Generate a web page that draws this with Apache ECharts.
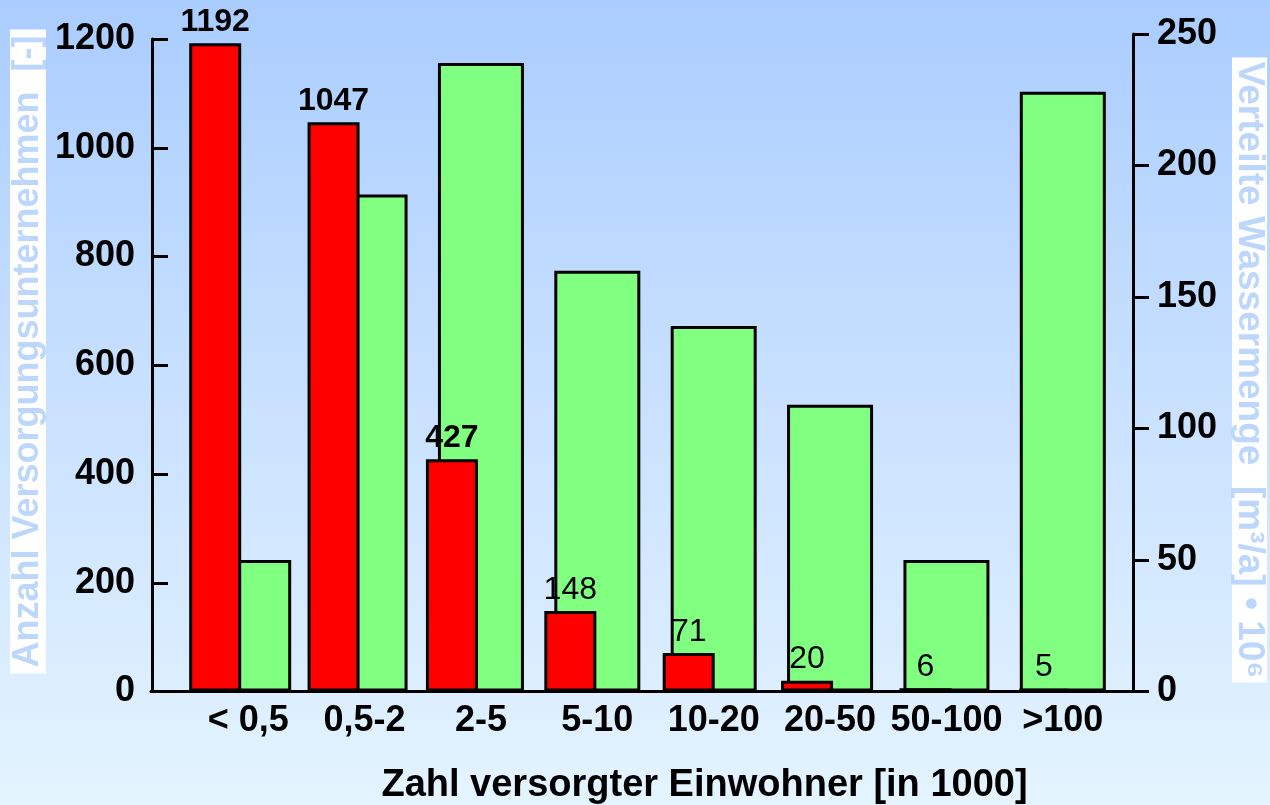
<!DOCTYPE html>
<html>
<head>
<meta charset="utf-8">
<script src="https://cdn.jsdelivr.net/npm/echarts@6/dist/echarts.min.js"></script>
<style>
  html, body { margin: 0; padding: 0; }
  #chart { width: 1270px; height: 805px; }
</style>
</head>
<body>
<div id="chart"></div>
<script>
// Size classes of supplied inhabitants (in 1000)
const categories = ['< 0,5', '0,5-2', '2-5', '5-10', '10-20', '20-50', '50-100', '>100'];
// Number of water supply companies per class
const anzahlUnternehmen = [1192, 1047, 427, 148, 71, 20, 6, 5];
// Distributed water volume per class [m³/a · 10⁶]
const wassermenge = [50, 189, 239, 160, 139, 109, 50, 228];
// Axis ticks
const leftTicks = [0, 200, 400, 600, 800, 1000, 1200];
const rightTicks = [0, 50, 100, 150, 200, 250];

const FONT = '"Liberation Sans", Arial, sans-serif';
const chart = echarts.init(document.getElementById('chart'));

const titleColor = '#bcd7fb';
const plain = v => String(v);

chart.setOption({
  animation: false,
  backgroundColor: {
    type: 'linear', x: 0, y: 0, x2: 0, y2: 1,
    colorStops: [
      { offset: 0, color: '#aacdff' },
      { offset: 0.5, color: '#c9e1ff' },
      { offset: 1, color: '#e4f4ff' }
    ]
  },
  grid: [
    { left: 156, right: 167, top: 39, bottom: 113.5 },  // company counts
    { left: 190, right: 149, top: 34, bottom: 113.5 },  // water volume
    { left: 151, right: 137, top: 39, bottom: 113.5 }   // baseline frame
  ],
  xAxis: [
    { gridIndex: 0, type: 'category', data: categories, show: false },
    {
      gridIndex: 1, type: 'category', data: categories,
      axisLine: { show: false }, axisTick: { show: false },
      axisLabel: { color: '#000', fontFamily: FONT, fontWeight: 'bold', fontSize: 36, margin: 12, interval: 0 }
    },
    {
      gridIndex: 2, type: 'category', data: categories,
      axisLine: { lineStyle: { color: '#000', width: 3 } },
      axisTick: { show: false }, axisLabel: { show: false }
    }
  ],
  yAxis: [
    {
      gridIndex: 0, type: 'value', position: 'left', offset: 4,
      min: leftTicks[0], max: leftTicks[leftTicks.length - 1], interval: leftTicks[1] - leftTicks[0],
      axisLine: { show: true, lineStyle: { color: '#000', width: 3 } },
      axisTick: { show: true, inside: true, length: 16, lineStyle: { color: '#000', width: 3 } },
      axisLabel: { color: '#000', fontFamily: FONT, fontWeight: 'bold', fontSize: 36, margin: 17, formatter: plain },
      splitLine: { show: false }
    },
    {
      gridIndex: 1, type: 'value', position: 'right', offset: 12,
      min: rightTicks[0], max: rightTicks[rightTicks.length - 1], interval: rightTicks[1] - rightTicks[0],
      axisLine: { show: true, lineStyle: { color: '#000', width: 3 } },
      axisTick: { show: true, inside: false, length: 16, lineStyle: { color: '#000', width: 3 } },
      axisLabel: { color: '#000', fontFamily: FONT, fontWeight: 'bold', fontSize: 36, margin: 24, formatter: plain },
      splitLine: { show: false }
    },
    { gridIndex: 2, type: 'value', show: false, min: 0, max: 1 }
  ],
  graphic: [
    {
      type: 'text', x: 28, y: 351.5, rotation: Math.PI / 2,
      style: {
        text: 'Anzahl Versorgungsunternehmen  [-]',
        font: 'bold 36px ' + FONT, fill: titleColor,
        align: 'center', verticalAlign: 'middle',
        backgroundColor: '#ffffff', padding: [0, 6], lineHeight: 36
      }
    },
    {
      type: 'text', x: 1249.5, y: 370, rotation: -Math.PI / 2,
      style: {
        text: 'Verteilte Wassermenge  [m³/a] • 10⁶',
        font: 'bold 37px ' + FONT, fill: titleColor,
        align: 'center', verticalAlign: 'middle',
        backgroundColor: '#ffffff', padding: [0, 4], lineHeight: 35
      }
    },
    {
      type: 'text', x: 704.5, y: 786,
      style: {
        text: 'Zahl versorgter Einwohner [in 1000]',
        font: 'bold 38px ' + FONT, fill: '#000',
        align: 'center', verticalAlign: 'middle'
      }
    }
  ],
  series: [
    {
      name: 'Wassermenge', type: 'bar', xAxisIndex: 1, yAxisIndex: 1,
      data: wassermenge, barWidth: 86, z: 2,
      itemStyle: { color: '#80ff80', borderColor: '#000', borderWidth: 3 }
    },
    {
      name: 'Versorgungsunternehmen', type: 'bar', xAxisIndex: 0, yAxisIndex: 0,
      data: anzahlUnternehmen.map((v, i) => ({
        value: v,
        label: { fontWeight: i < 3 ? 'bold' : 'normal' }
      })),
      barWidth: 52, z: 3,
      itemStyle: { color: '#ff0000', borderColor: '#000', borderWidth: 3 },
      label: {
        show: true, position: 'top', distance: 5,
        color: '#000', fontFamily: FONT, fontSize: 32
      }
    }
  ]
});
</script>
</body>
</html>
